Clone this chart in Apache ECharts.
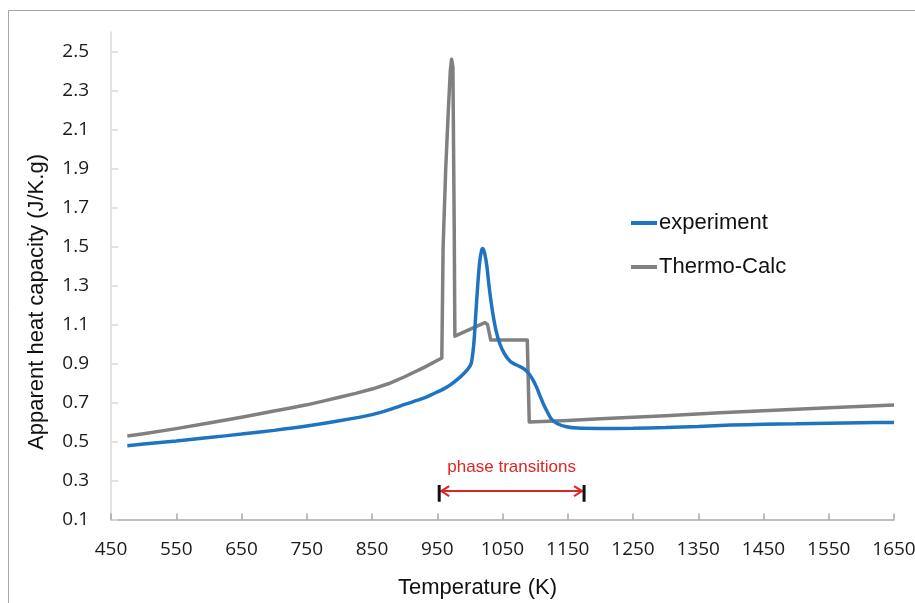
<!DOCTYPE html>
<html>
<head>
<meta charset="utf-8">
<script src="https://cdn.jsdelivr.net/npm/echarts@6/dist/echarts.min.js"></script>
<style>
html,body{margin:0;padding:0;background:#fff;overflow:hidden;}
#chart{width:915px;height:603px;}
</style>
</head>
<body>
<div id="chart"></div>
<script>
// ---- data ----
const seriesNames = ['experiment', 'Thermo-Calc'];
const experimentT = [475,500,550,600,650,700,750,800,850,878,900,929,945,960,970,985,996,1002,1006,1009,1012,1015,1018,1020,1023,1026,1030,1035,1040,1046,1053,1062,1070,1077,1084,1090,1096,1102,1108,1113,1119,1125,1135,1148,1165,1199,1250,1300,1350,1400,1450,1500,1550,1600,1650];
const experimentCp = [0.478,0.487,0.503,0.520,0.538,0.557,0.579,0.606,0.638,0.665,0.690,0.722,0.746,0.770,0.790,0.830,0.867,0.900,1.000,1.150,1.300,1.420,1.480,1.490,1.460,1.400,1.280,1.160,1.070,1.000,0.950,0.910,0.895,0.884,0.870,0.850,0.820,0.780,0.730,0.690,0.650,0.615,0.590,0.576,0.569,0.567,0.568,0.572,0.577,0.584,0.588,0.591,0.594,0.596,0.598];
const thermoT = [475,500,550,600,650,700,725,750,775,800,825,850,875,900,930,957,959,963,967,970,972,974,976,977,1000,1023,1027,1032,1060,1088,1091,1150,1200,1300,1383,1450,1550,1650];
const thermoCp = [0.528,0.540,0.566,0.595,0.624,0.656,0.672,0.688,0.707,0.727,0.747,0.769,0.796,0.832,0.880,0.928,1.500,1.900,2.200,2.400,2.460,2.420,1.600,1.040,1.075,1.110,1.100,1.020,1.020,1.020,0.600,0.608,0.617,0.632,0.648,0.658,0.673,0.687];
const xTickMin = 450, xTickMax = 1650, xTickStep = 100;
const yTickMin = 0.1, yTickMax = 2.6, yTickStep = 0.2;
const xTitle = 'Temperature (K)';
const yTitle = 'Apparent heat capacity (J/K.g)';
const annotText = 'phase transitions';
const annotRange = [953, 1175];
const annotY = 0.246;
const annotBar = [0.191, 0.277];
const annotLabelY = 0.366;

const pair = (a, b) => a.map((v, i) => [v, b[i]]);

const chart = echarts.init(document.getElementById('chart'), null, {renderer: 'canvas', width: 915, height: 603});
const labelFont = {fontFamily: 'Open Sans', fontSize: 19, color: '#1a1a1a'};

chart.setOption({
  animation: false,
  backgroundColor: '#fff',
  grid: {left: 111, right: 21, top: 32, bottom: 83.5, containLabel: false, outerBoundsMode: 'none'},
  legend: {
    orient: 'vertical', left: 631, top: 212, itemGap: 22, padding: 0,
    itemWidth: 26, itemHeight: 4, icon: 'rect',
    textStyle: {fontFamily: 'Liberation Sans', fontSize: 22, color: '#111', padding: [0, 0, 0, -3]},
    data: seriesNames
  },
  xAxis: {
    type: 'value', min: xTickMin, max: xTickMax, interval: xTickStep,
    axisLine: {show: true, lineStyle: {color: '#a6a6a6', width: 1.5}},
    axisTick: {show: true, inside: true, length: 6, lineStyle: {color: '#a6a6a6', width: 1.5}},
    splitLine: {show: false},
    axisLabel: Object.assign({margin: 21, formatter: v => String(v), hideOverlap: false}, labelFont)
  },
  yAxis: {
    type: 'value', min: yTickMin, max: yTickMax, interval: yTickStep,
    axisLine: {show: true, lineStyle: {color: '#d9d9d9', width: 1.5}},
    axisTick: {show: true, inside: true, length: 7, lineStyle: {color: '#d9d9d9', width: 1.5}},
    splitLine: {show: false},
    axisLabel: Object.assign({margin: 22, showMaxLabel: false, formatter: v => v.toFixed(1)}, labelFont)
  },
  series: [
    {
      name: seriesNames[0], type: 'line', data: pair(experimentT, experimentCp),
      showSymbol: false, symbol: 'none', smooth: 0.3,
      lineStyle: {color: '#1f74c2', width: 3.5}, itemStyle: {color: '#1f74c2'}, z: 3
    },
    {
      name: seriesNames[1], type: 'line', data: pair(thermoT, thermoCp),
      showSymbol: false, symbol: 'none', smooth: false,
      lineStyle: {color: '#808080', width: 3.5, join: 'round'}, itemStyle: {color: '#808080'}, z: 2
    }
  ]
});

const p0 = chart.convertToPixel({gridIndex: 0}, [annotRange[0], annotY]);
const p1 = chart.convertToPixel({gridIndex: 0}, [annotRange[1], annotY]);
const b0 = chart.convertToPixel({gridIndex: 0}, [annotRange[0], annotBar[0]]);
const b1 = chart.convertToPixel({gridIndex: 0}, [annotRange[0], annotBar[1]]);
const lp = chart.convertToPixel({gridIndex: 0}, [(annotRange[0] + annotRange[1]) / 2, annotLabelY]);
const red = '#e02424';
const ax = p0[0] + 2, bx = p1[0] - 2, ay = p0[1];

chart.setOption({
  graphic: [
    {type: 'rect', shape: {x: 8.5, y: 10.5, width: 1200, height: 900}, style: {fill: 'none', stroke: '#a6a6a6', lineWidth: 1}, silent: true, z: 0},
    {type: 'text', x: 477.5, y: 588, style: {text: xTitle, font: '22px "Liberation Sans"', fill: '#111', align: 'center', verticalAlign: 'middle'}},
    {type: 'text', x: 37, y: 302, rotation: Math.PI / 2, style: {text: yTitle, font: '22px "Liberation Sans"', fill: '#111', align: 'center', verticalAlign: 'middle'}},
    {type: 'line', shape: {x1: ax, y1: ay, x2: bx, y2: ay}, style: {stroke: red, lineWidth: 2}},
    {type: 'polyline', shape: {points: [[ax + 8, ay - 5], [ax, ay], [ax + 8, ay + 5]]}, style: {stroke: red, lineWidth: 2, fill: 'none'}},
    {type: 'polyline', shape: {points: [[bx - 8, ay - 5], [bx, ay], [bx - 8, ay + 5]]}, style: {stroke: red, lineWidth: 2, fill: 'none'}},
    {type: 'line', shape: {x1: p0[0], y1: b0[1], x2: p0[0], y2: b1[1]}, style: {stroke: '#111', lineWidth: 3}},
    {type: 'line', shape: {x1: p1[0], y1: b0[1], x2: p1[0], y2: b1[1]}, style: {stroke: '#111', lineWidth: 3}},
    {type: 'text', x: lp[0], y: lp[1], style: {text: annotText, font: '17px "Liberation Sans"', fill: red, align: 'center', verticalAlign: 'middle'}}
  ]
});
</script>
</body>
</html>
